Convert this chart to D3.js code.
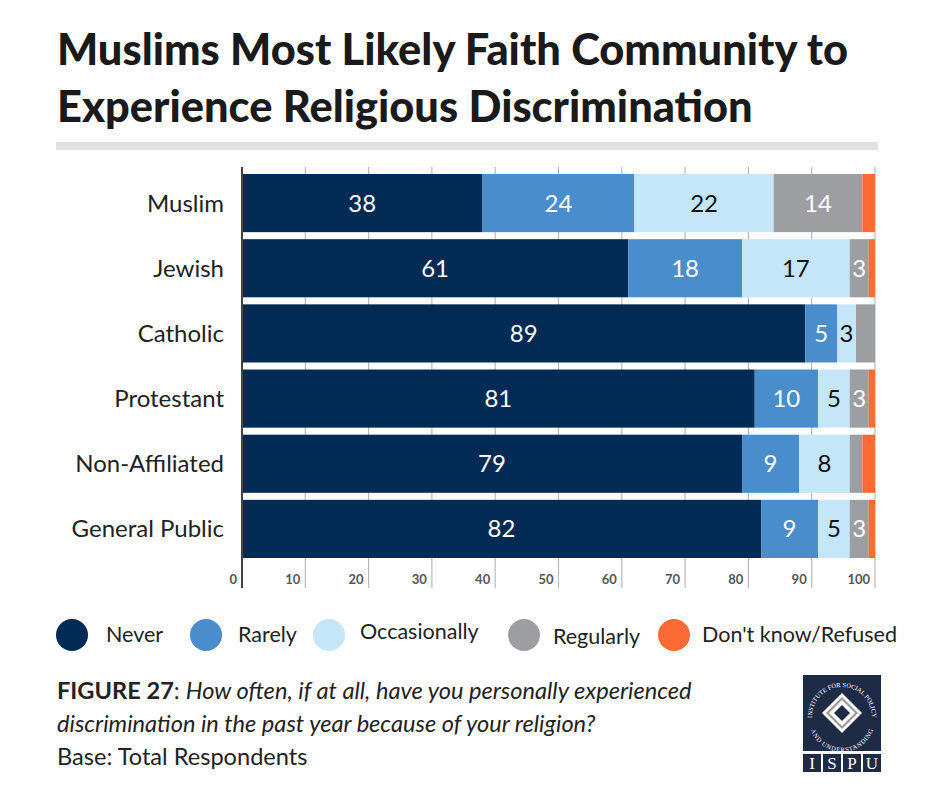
<!DOCTYPE html>
<html><head><meta charset="utf-8">
<script src="https://cdn.jsdelivr.net/npm/d3@7"></script>
<style>
html,body{margin:0;padding:0;background:#fff;}
svg{display:block;font-family:Lato,"Open Sans",sans-serif;}
</style></head>
<body>
<svg id="chart" width="940" height="788"></svg>
<script>
// ---- data ----
const categories = ["Muslim","Jewish","Catholic","Protestant","Non-Affiliated","General Public"];
const seriesNames = ["Never","Rarely","Occasionally","Regularly","Don't know/Refused"];
const never        = [38, 61, 89, 81, 79, 82];
const rarely       = [24, 18,  5, 10,  9,  9];
const occasionally = [22, 17,  3,  5,  8,  5];
const regularly    = [14,  3,  3,  3,  2,  3];
const dontKnow     = [ 2,  1,  0,  1,  2,  1];
const tickValues = [0,10,20,30,40,50,60,70,80,90,100];
const unlabeled = ["Catholic|Regularly"];
const titleLines = ["Muslims Most Likely Faith Community to","Experience Religious Discrimination"];

// ---- styles ----
const colors = ["#012a54","#4a8dcc","#c5e6f8","#9d9ea2","#fd6a36"];
const labelColors = ["#fff","#fff","#111","#fff","#fff"];
const legendX = [72, 206, 329, 524, 674];
const legendTextDx = [34, 32, 31, 29, 28];
const legendTextY = [7, 7, 4, 9, 7];

const svg = d3.select("#chart");
const x = d3.scaleLinear().domain([0,100]).range([242,875]);
const y = d3.scaleBand().domain(categories).range([170.5,561.5]).paddingInner(0.108).paddingOuter(0.054);

// title
svg.selectAll("text.title").data(titleLines).join("text")
  .attr("class","title").attr("x",57).attr("y",(d,i)=>65+i*57)
  .attr("font-size",43.4).attr("font-weight",900).attr("fill","#1a1a1a").text(d=>d);
svg.append("rect").attr("x",56).attr("y",142).attr("width",822).attr("height",8).attr("fill","#e1e1e1");

// gridlines
svg.append("g").selectAll("line").data(tickValues.slice(1)).join("line")
  .attr("x1",d=>x(d)).attr("x2",d=>x(d)).attr("y1",167).attr("y2",588)
  .attr("stroke","#b9b9b9").attr("stroke-width",1.2);

// stacked data
const rows = categories.map((c,i)=>({cat:c, vals:[never[i],rarely[i],occasionally[i],regularly[i],dontKnow[i]]}));
const stackData = rows.map(r=>{ const o={cat:r.cat}; seriesNames.forEach((s,j)=>o[s]=r.vals[j]); return o;});
const stack = d3.stack().keys(seriesNames)(stackData);

const layers = svg.append("g").selectAll("g").data(stack).join("g")
  .attr("fill",(d,i)=>colors[i]);
layers.selectAll("rect").data(d=>d).join("rect")
  .attr("x",d=>x(d[0])).attr("width",d=>Math.max(0,x(d[1])-x(d[0])))
  .attr("y",d=>y(d.data.cat)).attr("height",y.bandwidth());

// value labels
const lab = svg.append("g");
stack.forEach((layer,i)=>{
  layer.forEach(d=>{
    const v = d[1]-d[0];
    if (v < 3) return;
    if (unlabeled.includes(d.data.cat+"|"+layer.key)) return;
    lab.append("text").attr("x",(x(d[0])+x(d[1]))/2).attr("y",y(d.data.cat)+y.bandwidth()/2+8.5)
      .attr("text-anchor","middle").attr("font-size",24).attr("fill",labelColors[i]).text(v);
  });
});

// axis line
svg.append("line").attr("x1",242).attr("x2",242).attr("y1",167).attr("y2",588)
  .attr("stroke","#444").attr("stroke-width",2);

// tick labels
svg.append("g").selectAll("text").data(tickValues).join("text")
  .attr("x",d=>x(d)-5).attr("y",584).attr("text-anchor","end")
  .attr("font-size",13).attr("font-weight",700).attr("fill","#555").text(d=>d);

// category labels
svg.append("g").selectAll("text").data(categories).join("text")
  .attr("x",224).attr("y",d=>y(d)+y.bandwidth()/2+8.5).attr("text-anchor","end")
  .attr("font-size",24).attr("fill","#222").text(d=>d);

// legend
const lg = svg.append("g").selectAll("g").data(seriesNames).join("g")
  .attr("transform",(d,i)=>`translate(${legendX[i]},635)`);
lg.append("circle").attr("r",16).attr("fill",(d,i)=>colors[i]);
lg.append("text").attr("x",(d,i)=>legendTextDx[i]).attr("y",(d,i)=>legendTextY[i])
  .attr("font-size",21.5).attr("fill","#222").text(d=>d);

// footnote
const fs = 23.6;
const f1 = svg.append("text").attr("x",57).attr("y",699).attr("font-size",fs).attr("fill","#222");
f1.append("tspan").attr("font-weight",700).text("FIGURE 27");
f1.append("tspan").text(": ");
f1.append("tspan").attr("font-style","italic").text("How often, if at all, have you personally experienced");
svg.append("text").attr("x",57).attr("y",732).attr("font-size",fs).attr("font-style","italic").attr("fill","#222")
  .text("discrimination in the past year because of your religion?");
svg.append("text").attr("x",57).attr("y",765).attr("font-size",fs).attr("fill","#222").text("Base: Total Respondents");

// logo
const logo = svg.append("g");
const navy = "#1d2b47";
logo.append("rect").attr("x",803).attr("y",675).attr("width",78).attr("height",76).attr("fill",navy);
const cx=842, cy=713;
const diamond = h => `M${cx},${cy-h}L${cx+h},${cy}L${cx},${cy+h}L${cx-h},${cy}Z`;
logo.append("path").attr("d",diamond(20)).attr("fill","#fff");
logo.append("path").attr("d",diamond(16)).attr("fill","#9a9a9a");
logo.append("path").attr("d",diamond(13)).attr("fill","#fff");
logo.append("path").attr("d",diamond(8)).attr("fill",navy);
const defs = svg.append("defs");
const r=30;
defs.append("path").attr("id","arcTop").attr("d",`M${cx-r},${cy+4} A${r},${r} 0 0,1 ${cx+r},${cy+4}`);
defs.append("path").attr("id","arcBot").attr("d",`M${cx-r+2},${cy+6} A${r-2},${r-2} 0 0,0 ${cx+r-2},${cy+6}`);
logo.append("text").attr("font-size",6.4).attr("font-family","'Liberation Serif',serif").attr("fill","#fff")
  .append("textPath").attr("href","#arcTop").attr("startOffset","50%").attr("text-anchor","middle")
  .text("INSTITUTE FOR SOCIAL POLICY");
logo.append("text").attr("font-size",6.4).attr("font-family","'Liberation Serif',serif").attr("fill","#fff").attr("dy",5)
  .append("textPath").attr("href","#arcBot").attr("startOffset","50%").attr("text-anchor","middle")
  .text("AND UNDERSTANDING");
const letters = ["I","S","P","U"];
const lgx = d3.scaleBand().domain(letters).range([803,881]).paddingInner(0.1);
logo.selectAll("rect.l").data(letters).join("rect").attr("class","l")
  .attr("x",d=>lgx(d)).attr("y",754).attr("width",lgx.bandwidth()).attr("height",18).attr("fill",navy);
logo.selectAll("text.l").data(letters).join("text").attr("class","l")
  .attr("x",d=>lgx(d)+lgx.bandwidth()/2).attr("y",769).attr("text-anchor","middle")
  .attr("font-family","'Liberation Serif',serif").attr("font-size",17).attr("fill","#fff").text(d=>d);
</script>
</body></html>
